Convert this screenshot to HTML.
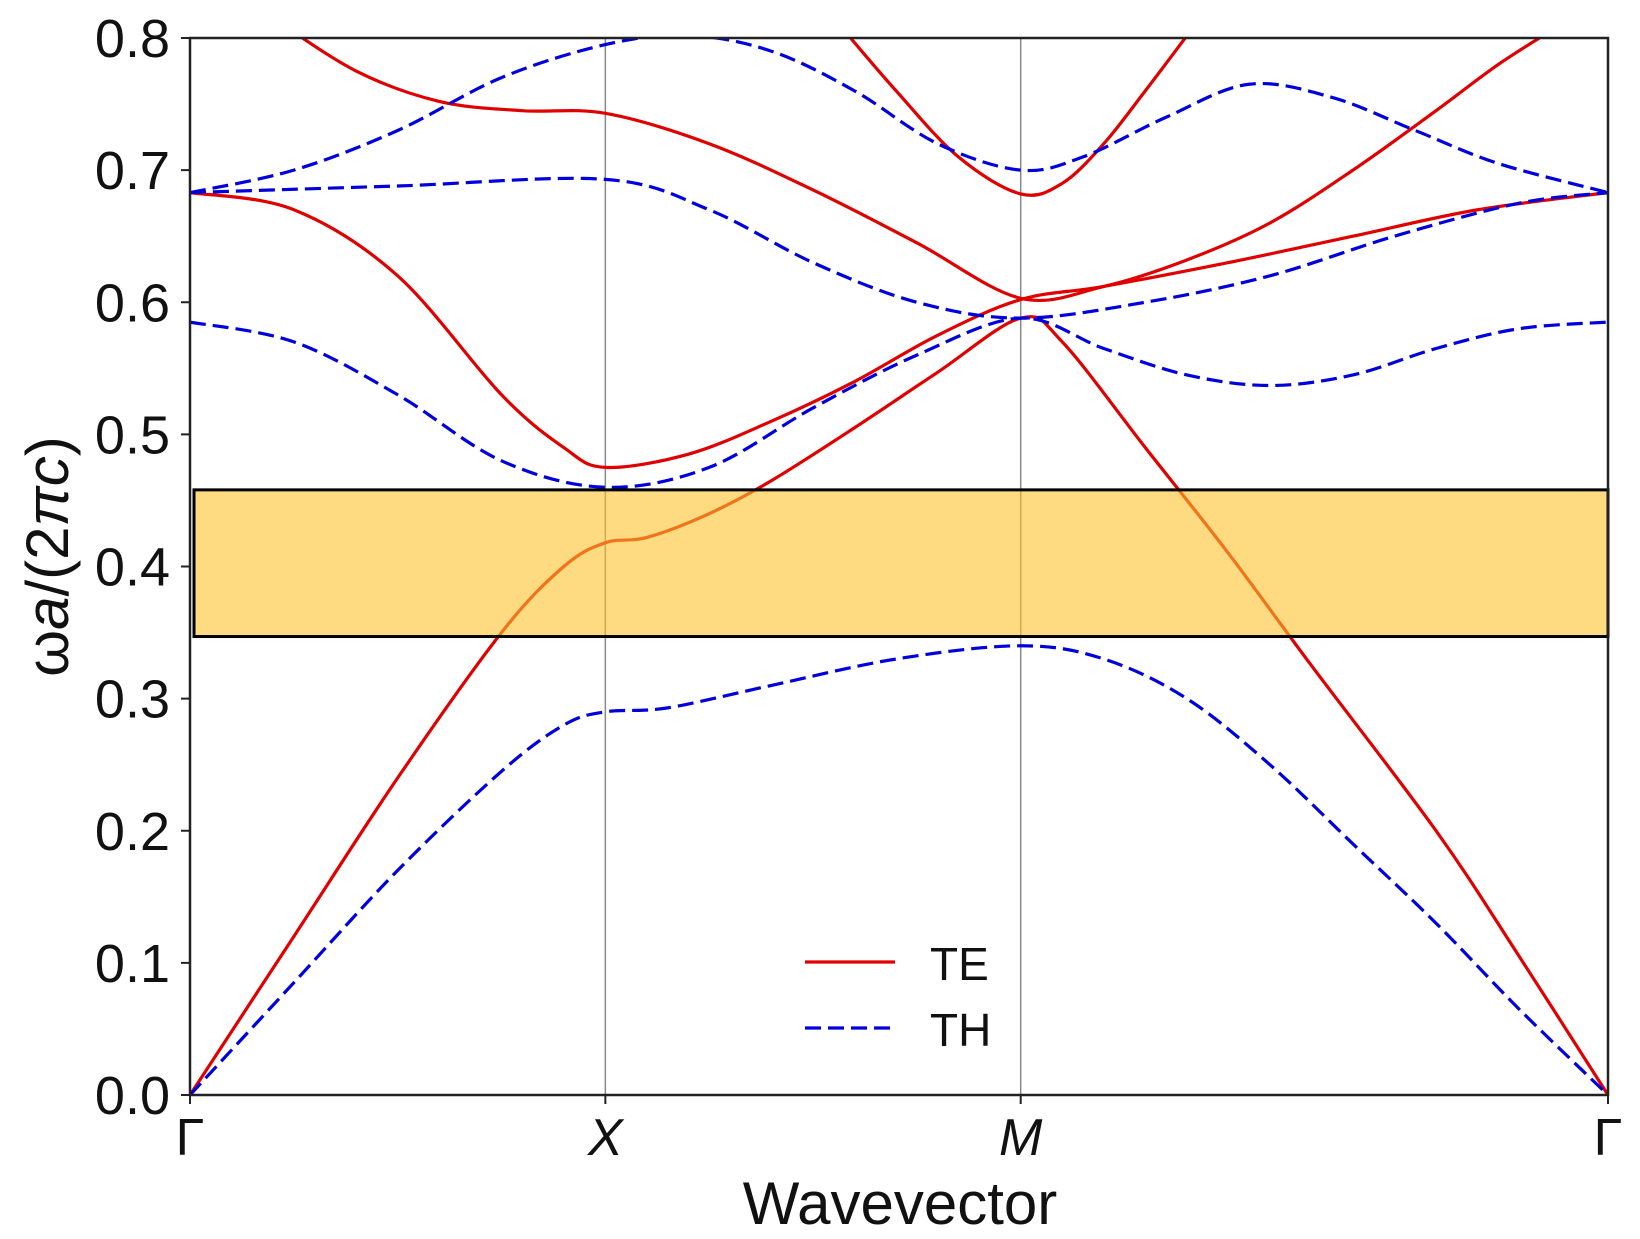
<!DOCTYPE html>
<html><head><meta charset="utf-8"><style>
html,body{margin:0;padding:0;background:#fff}
svg{display:block;font-family:"Liberation Sans","DejaVu Sans",sans-serif}
</style></head><body>
<svg id="chart" width="1640" height="1239" viewBox="0 0 1640 1239" xmlns="http://www.w3.org/2000/svg">
<g id="grid"></g>
<g id="bands"></g>
<g id="gap"></g>
<g id="axes"></g>
<g id="legend"></g>
</svg>
<script>
const yTicks=[0,0.1,0.2,0.3,0.4,0.5,0.6,0.7,0.8];
const kPoints=[0,1,2,3.414];
const kLabels=["Γ","X","M","Γ"];
const gapRange=[0.347,0.458];
const te1K=[0,0.25,0.5,0.75,0.9,1.0,1.1,1.25,1.4,1.6,1.8,2.0,2.1,2.3,2.5,2.7,3.0,3.2,3.414];
const te1V=[0,0.12,0.24,0.35,0.40,0.418,0.422,0.44,0.465,0.505,0.547,0.588,0.57,0.49,0.41,0.325,0.20,0.105,0];
const te2K=[0,0.25,0.5,0.75,0.9,1.0,1.2,1.4,1.6,1.8,2.0,2.2,2.5,2.8,3.1,3.414];
const te2V=[0.683,0.67,0.62,0.53,0.49,0.475,0.485,0.51,0.54,0.575,0.602,0.612,0.63,0.65,0.67,0.683];
const te3K=[0.2,0.4,0.6,0.8,1.0,1.25,1.5,1.75,2.0,2.2,2.4,2.6,2.8,3.0,3.15,3.3];
const te3V=[0.815,0.775,0.752,0.745,0.743,0.72,0.685,0.645,0.603,0.612,0.632,0.66,0.70,0.745,0.78,0.81];
const te4K=[1.55,1.7,1.85,2.0,2.1,2.2,2.3,2.42];
const te4V=[0.815,0.76,0.71,0.682,0.69,0.72,0.76,0.81];
const th1K=[0,0.25,0.5,0.75,0.9,1.0,1.15,1.4,1.7,2.0,2.2,2.4,2.6,2.8,3.0,3.2,3.414];
const th1V=[0,0.085,0.17,0.245,0.28,0.29,0.293,0.31,0.33,0.34,0.33,0.30,0.25,0.19,0.13,0.065,0];
const th2K=[0,0.25,0.5,0.75,1.0,1.25,1.5,1.75,2.0,2.2,2.4,2.6,2.8,3.0,3.2,3.414];
const th2V=[0.585,0.57,0.53,0.48,0.46,0.475,0.52,0.56,0.588,0.565,0.545,0.537,0.545,0.565,0.58,0.585];
const th3K=[0,0.5,1.0,1.25,1.5,1.75,2.0,2.3,2.6,2.9,3.2,3.414];
const th3V=[0.683,0.688,0.693,0.67,0.63,0.6,0.588,0.6,0.62,0.65,0.675,0.683];
const th4K=[0,0.25,0.5,0.75,1.0,1.2,1.4,1.6,1.8,2.0,2.15,2.35,2.55,2.75,2.95,3.15,3.414];
const th4V=[0.683,0.7,0.73,0.77,0.795,0.802,0.79,0.76,0.72,0.70,0.71,0.74,0.765,0.755,0.73,0.705,0.683];

const L=190,R=1608,T=38,B=1095;
const sx=k=>L+(R-L)*k/3.414;
const sy=v=>B-(B-T)*v/0.8;
const NS="http://www.w3.org/2000/svg";
function mk(tag,parent,attrs){const e=document.createElementNS(NS,tag);for(const a in attrs)e.setAttribute(a,attrs[a]);parent.appendChild(e);return e;}
function pathD(K,V){
  const p=K.map((k,i)=>[sx(k),sy(V[i])]);
  let d="M"+p[0][0]+","+p[0][1];
  for(let i=0;i<p.length-1;i++){
    const p0=p[Math.max(0,i-1)],p1=p[i],p2=p[i+1],p3=p[Math.min(p.length-1,i+2)];
    const c1=[p1[0]+(p2[0]-p0[0])/6,p1[1]+(p2[1]-p0[1])/6];
    const c2=[p2[0]-(p3[0]-p1[0])/6,p2[1]-(p3[1]-p1[1])/6];
    d+=" C"+c1[0]+","+c1[1]+" "+c2[0]+","+c2[1]+" "+p2[0]+","+p2[1];
  }
  return d;
}
const svg=document.getElementById('chart');
const defs=mk('defs',svg,{});
const cp=mk('clipPath',defs,{id:'clip'});
mk('rect',cp,{x:L,y:T,width:R-L,height:B-T});

const grid=document.getElementById('grid');
kPoints.slice(1,3).forEach((k,i)=>{
  const l=mk('line',grid,{x1:sx(k),x2:sx(k),y1:T,y2:B,stroke:'#888','stroke-width':1.5});
  
  
});

const bands=document.getElementById('bands');
bands.setAttribute('clip-path','url(#clip)');
const series=[["te-band-1",te1K,te1V,'te'],["te-band-2",te2K,te2V,'te'],["te-band-3",te3K,te3V,'te'],["te-band-4",te4K,te4V,'te'],
["th-band-1",th1K,th1V,'th'],["th-band-2",th2K,th2V,'th'],["th-band-3",th3K,th3V,'th'],["th-band-4",th4K,th4V,'th']];
series.forEach(s=>{
  const attrs={d:pathD(s[1],s[2]),fill:'none','stroke-width':3.2};
  if(s[3]==='te'){attrs.stroke='#e00000';}else{attrs.stroke='#0000dd';attrs['stroke-dasharray']='16,7';}
  const p=mk('path',bands,attrs);
  
  
});

const gap=document.getElementById('gap');
const gr=mk('rect',gap,{x:L+4,y:sy(gapRange[1]),width:R-L-4,height:sy(gapRange[0])-sy(gapRange[1]),fill:'rgba(253,193,43,0.6)',stroke:'#000','stroke-width':3});



const axes=document.getElementById('axes');
const frame=mk('rect',axes,{x:L,y:T,width:R-L,height:B-T,fill:'none',stroke:'#222','stroke-width':2.5});


yTicks.forEach(v=>{
  mk('line',axes,{x1:L-9,x2:L,y1:sy(v),y2:sy(v),stroke:'#222','stroke-width':2});
  const t=mk('text',axes,{x:L-20,y:sy(v)+19,'text-anchor':'end','font-size':54,fill:'#111'});
  t.textContent=v.toFixed(1);
  
  
});
kPoints.forEach((k,i)=>{
  mk('line',axes,{x1:sx(k),x2:sx(k),y1:B,y2:B+9,stroke:'#222','stroke-width':2});
  const t=mk('text',axes,{x:sx(k),y:B+60,'text-anchor':'middle','font-size':52,fill:'#111','font-style':(i===1||i===2)?'italic':'normal'});
  t.textContent=kLabels[i];
  
  
});
const xt=mk('text',axes,{x:900,y:1224,'text-anchor':'middle','font-size':60,fill:'#111'});
xt.textContent='Wavevector';


const yt=mk('text',axes,{x:0,y:0,transform:'translate(68,'+((T+B)/2-10)+') rotate(-90)','text-anchor':'middle','font-size':60,fill:'#111'});
yt.innerHTML='ω<tspan font-style="italic">a</tspan>/(2<tspan font-style="italic">π</tspan><tspan font-style="italic">c</tspan>)';



const lg=document.getElementById('legend');


const e1=mk('g',lg,{});


mk('line',e1,{x1:805,x2:895,y1:962,y2:962,stroke:'#e00000','stroke-width':3.2});
const t1=mk('text',e1,{x:930,y:980,'font-size':46,fill:'#111'});t1.textContent='TE';
const e2=mk('g',lg,{});


mk('line',e2,{x1:805,x2:895,y1:1028,y2:1028,stroke:'#0000dd','stroke-width':3.2,'stroke-dasharray':'16,7'});
const t2=mk('text',e2,{x:930,y:1046,'font-size':46,fill:'#111'});t2.textContent='TH';
</script>
</body></html>
